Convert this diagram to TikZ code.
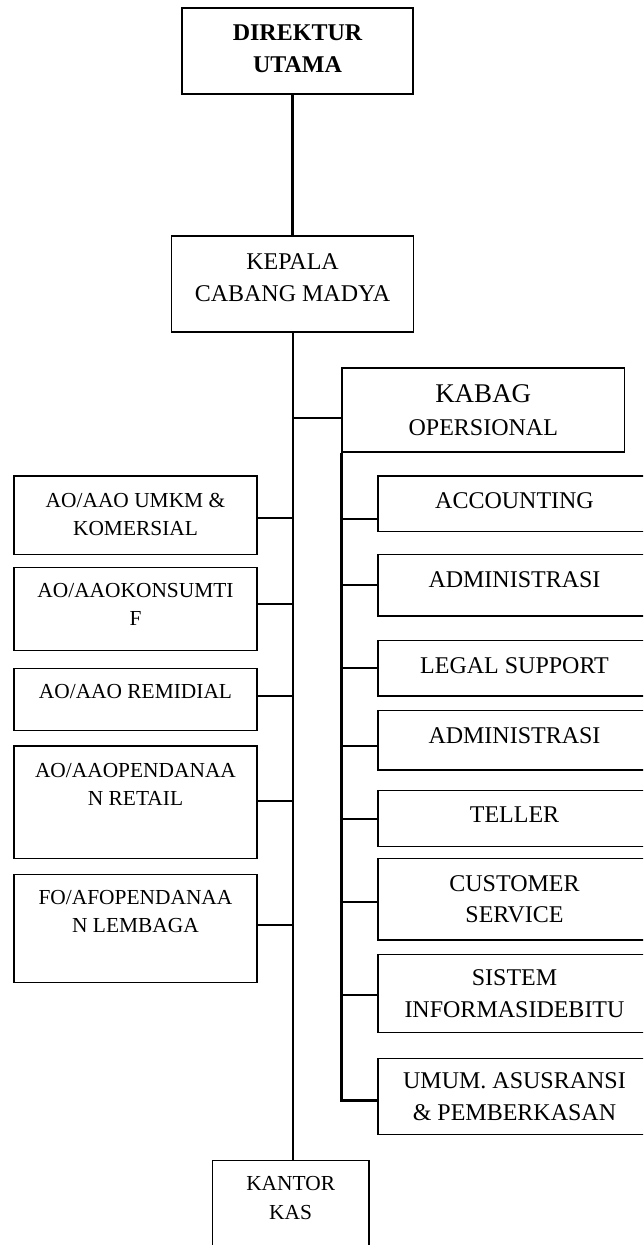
\documentclass[tikz,border=0pt]{standalone}
\usepackage{fontspec}
\setmainfont{Liberation Serif}
\usetikzlibrary{positioning,calc}

\begin{document}
\begin{tikzpicture}[
        x=0.5pt, y=-0.5pt,
        every node/.style={draw, line width=0.7pt, align=center, inner sep=1pt, font=\fontsize{12}{15.8}\selectfont},
        lbox/.style={minimum width=121.5pt, font=\fontsize{10.7}{14}\selectfont},
        rbox/.style={minimum width=136.5pt},
        link/.style={line width=1pt},
        trunk/.style={line width=1.5pt}
    ]
        \clip (0,0) rectangle (643,1245);

        % Nodes
        \node (dirut) [minimum width=115.5pt, minimum height=43pt, text depth=2pt, font=\bfseries\fontsize{12}{16}\selectfont] at (297.5,51) {DIREKTUR\\UTAMA};
        \node (kacab) [minimum width=120.75pt, minimum height=48pt, text depth=6.5pt] at (292.5,284) {KEPALA\\CABANG MADYA};
        \node (kabag) [minimum width=141.25pt, minimum height=42pt, font=\fontsize{12}{16.5}\selectfont] at (483.25,410) {{\fontsize{13.5}{16}\selectfont KABAG}\\OPERSIONAL};

        \node (umkm) [lbox, minimum height=39.15pt, text depth=1pt] at (135.5,515.2) {AO/AAO UMKM \&\\KOMERSIAL};
        \node (kons) [lbox, minimum height=41.3pt, text depth=4.5pt] at (135.5,609) {AO/AAOKONSUMTI\\F};
        \node (remid) [lbox, minimum height=31pt, text depth=7.6pt] at (135.5,699.3) {AO/AAO REMIDIAL};
        \node (retail) [lbox, minimum height=56.15pt, text depth=18pt] at (135.5,802.2) {AO/AAOPENDANAA\\N RETAIL};
        \node (lemb) [lbox, minimum height=54.2pt, text depth=17pt] at (135.5,928.5) {FO/AFOPENDANAA\\N LEMBAGA};

        \node (acc) [rbox, minimum height=27.85pt, text depth=3pt] at (514.5,503.8) {ACCOUNTING};
        \node (adm1) [rbox, minimum height=30.85pt, text depth=6pt] at (514.5,585.2) {ADMINISTRASI};
        \node (legal) [rbox, minimum height=27.65pt, text depth=3pt] at (514.5,668.3) {LEGAL SUPPORT};
        \node (adm2) [rbox, minimum height=29.65pt, text depth=5pt] at (514.5,740.3) {ADMINISTRASI};
        \node (teller) [rbox, minimum height=28pt, text depth=4pt] at (514.5,818.7) {TELLER};
        \node (cust) [rbox, minimum height=40.65pt] at (514.5,899.3) {CUSTOMER\\SERVICE};
        \node (sis) [rbox, minimum height=38.8pt] at (514.5,993.5) {SISTEM\\INFORMASIDEBITU};
        \node (umum) [rbox, minimum height=37.8pt] at (514.5,1096.5) {UMUM. ASUSRANSI\\\& PEMBERKASAN};

        \node (kas) [minimum width=78.35pt, minimum height=47.15pt, text depth=10pt, font=\fontsize{10.7}{14}\selectfont] at (290.65,1207.9) {KANTOR\\KAS};

        % Lines
        \draw[trunk] (dirut.south -| kacab.north) -- (kacab.north);
        \draw[link] (kacab.south) -- (kacab.south |- kas.north);
        \draw[link] (kacab.south) |- ([yshift=-3.85pt]kabag.west);
        \foreach \n/\s in {umkm/-1.5, kons/2.5, remid/1.5, retail/0.75, lemb/2}
            \draw[link] (kacab.south) |- ([yshift=\s pt]\n.east);
        \foreach \n/\s in {acc/-7.5, adm1/0, legal/0, adm2/-3, teller/-0.3, cust/-1.5, sis/-0.75}
            \draw[link] (kabag.south west) |- ([yshift=\s pt]\n.west);
        \draw[trunk] (kabag.south west) |- ([yshift=-2pt]umum.west);
    \end{tikzpicture}
\end{document}
